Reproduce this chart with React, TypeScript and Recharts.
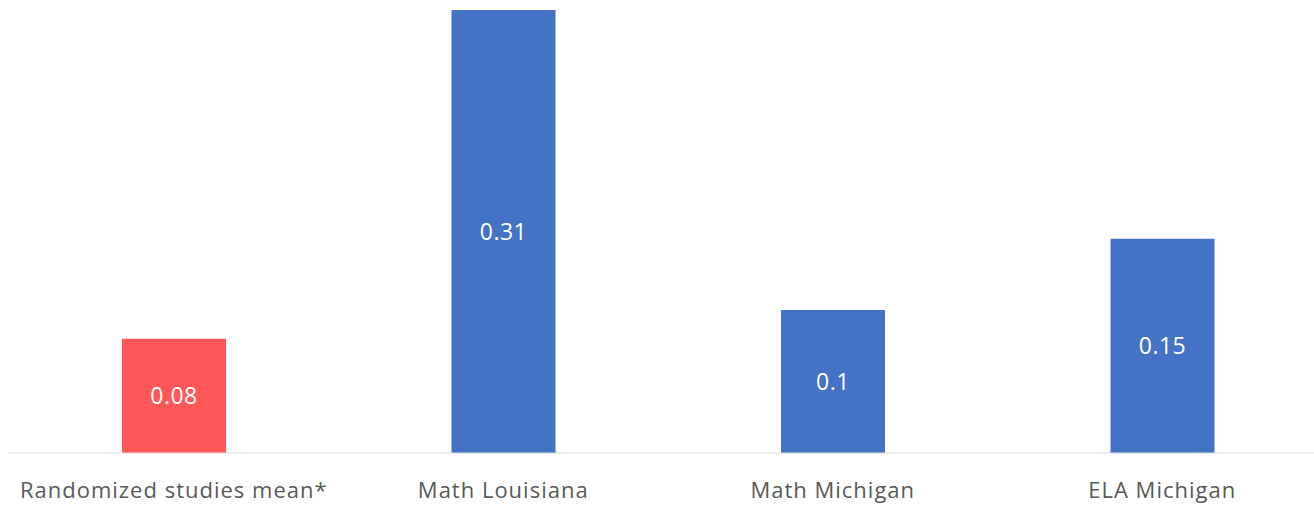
import React from 'react';
import { BarChart, Bar, XAxis, YAxis, Cell, LabelList } from 'recharts';

const categories = ['Randomized studies mean*', 'Math Louisiana', 'Math Michigan', 'ELA Michigan'];
const effects = [0.08, 0.31, 0.1, 0.15];
const barColors = ['#FF5757', '#4472C4', '#4472C4', '#4472C4'];

const chartData = categories.map((name, i) => ({ name, value: effects[i] }));

const FONT = '"Open Sans", "Noto Sans", sans-serif';

const App: React.FC = () => (
  <div style={{ position: 'absolute', left: 0, top: 0, width: 1314, height: 508, overflow: 'hidden', background: '#fff' }}>
    <BarChart
      width={1340}
      height={508}
      data={chartData}
      margin={{ top: 10, right: 13, bottom: 0, left: 9 }}
    >
      <XAxis
        dataKey="name"
        height={55}
        axisLine={{ stroke: '#D9D9D9', strokeWidth: 1 }}
        tickLine={false}
        tick={{ fill: '#595959', fontSize: 22, fontFamily: FONT, dy: 21, letterSpacing: 1 }}
        interval={0}
      />
      <YAxis hide domain={[0, 0.31]} />
      <Bar dataKey="value" barSize={104} isAnimationActive={false}>
        {chartData.map((d, i) => (
          <Cell key={d.name} fill={barColors[i]} />
        ))}
        <LabelList
          dataKey="value"
          position="center"
          fill="#FFFFFF"
          style={{ fontSize: 23, fontFamily: FONT, letterSpacing: 0.5 }}
        />
      </Bar>
    </BarChart>
  </div>
);

export default App;
